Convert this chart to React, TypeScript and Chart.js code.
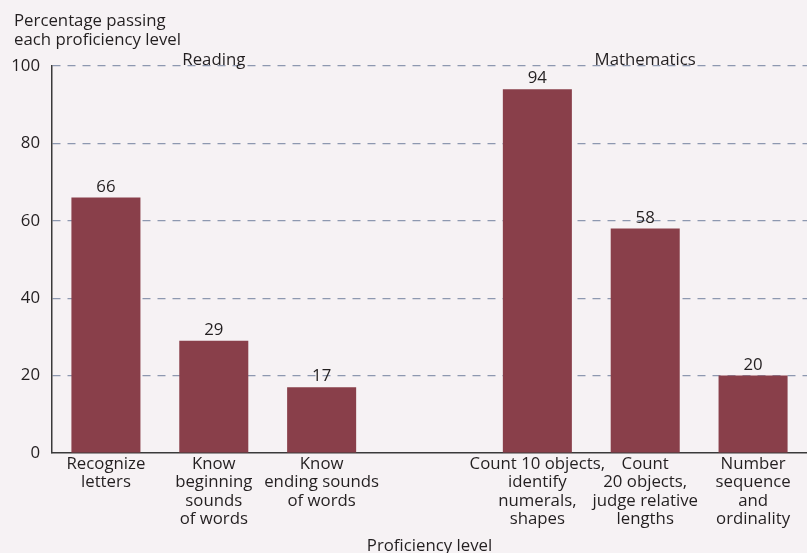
import React, { useEffect, useRef } from "react";
import { Chart, registerables } from "chart.js";

Chart.register(...registerables);

// Proficiency levels (multi-line tick labels); the empty slot separates the two subjects
const categories: string[][] = [
  ["Recognize", "letters"],
  ["Know", "beginning", "sounds", "of words"],
  ["Know", "ending sounds", "of words"],
  [""],
  ["Count 10 objects,", "identify", "numerals,", "shapes"],
  ["Count", "20 objects,", "judge relative", "lengths"],
  ["Number", "sequence", "and", "ordinality"],
];

// Percentage passing each proficiency level
const percentPassing: (number | null)[] = [66, 29, 17, null, 94, 58, 20];

// Subject headings, each placed over the middle level of its group
const subjects: { name: string; centerIndex: number }[] = [
  { name: "Reading", centerIndex: 1 },
  { name: "Mathematics", centerIndex: 5 },
];

const yTicks = [0, 20, 40, 60, 80, 100];
const yAxisTitle = ["Percentage passing", "each proficiency level"];
const xAxisTitle = "Proficiency level";

const FONT = "'Open Sans', 'DejaVu Sans', sans-serif";
const FONT_SIZE = 16.8;
const TEXT = "#231f20";
const BG = "#f6f2f4";
const BAR = "#893f4a";
const GRID = "#8d98b0";

const annotations = {
  id: "annotations",
  beforeDraw(chart: any) {
    const { ctx, width, height } = chart;
    ctx.save();
    ctx.fillStyle = BG;
    ctx.fillRect(0, 0, width, height);
    ctx.restore();
  },
  afterDraw(chart: any) {
    const { ctx, chartArea, scales } = chart;
    ctx.save();
    ctx.fillStyle = TEXT;
    ctx.font = `${FONT_SIZE}px ${FONT}`;

    // axis caption, top left
    ctx.textAlign = "left";
    ctx.textBaseline = "alphabetic";
    yAxisTitle.forEach((line, i) => ctx.fillText(line, 14, 26 + i * 19));

    // subject headings sitting on the 100 line
    ctx.textAlign = "center";
    subjects.forEach((s) => {
      const x = scales.x.getPixelForValue(s.centerIndex);
      ctx.fillText(s.name, x, chartArea.top - 1);
    });

    // value labels above bars
    const meta = chart.getDatasetMeta(0);
    meta.data.forEach((bar: any, i: number) => {
      const v = percentPassing[i];
      if (v == null) return;
      ctx.fillText(String(v), bar.x, bar.y - 6);
    });

    // horizontal axis caption
    ctx.fillText(xAxisTitle, (chartArea.left + chartArea.right) / 2, 551);
    ctx.restore();
  },
};

export default function App() {
  const ref = useRef<HTMLCanvasElement | null>(null);

  useEffect(() => {
    document.body.style.margin = "0";
    document.body.style.background = BG;
    const chart = new Chart(ref.current as HTMLCanvasElement, {
      type: "bar",
      data: {
        labels: categories,
        datasets: [
          {
            data: percentPassing,
            backgroundColor: BAR,
            borderWidth: 0,
            barPercentage: 0.64,
            categoryPercentage: 1,
          },
        ],
      },
      options: {
        animation: false,
        responsive: false,
        maintainAspectRatio: false,
        layout: { padding: { top: 66, left: 0, right: 0, bottom: 0 } },
        plugins: {
          legend: { display: false },
          tooltip: { enabled: false },
          title: { display: false },
        },
        scales: {
          x: {
            type: "category",
            offset: true,
            grid: { display: false, drawTicks: false },
            border: { display: true, color: "#3a3a3a", width: 1.5 },
            ticks: {
              autoSkip: false,
              maxRotation: 0,
              minRotation: 0,
              padding: 2,
              color: TEXT,
              font: { family: FONT, size: FONT_SIZE, lineHeight: 1.09 },
            },
            afterFit(scale: any) {
              scale.height = 100;
            },
          },
          y: {
            min: 0,
            max: 100,
            afterBuildTicks(scale: any) {
              scale.ticks = yTicks.map((v) => ({ value: v }));
            },
            grid: {
              drawTicks: false,
              color: (c: any) => (c.tick && c.tick.value === 0 ? "rgba(0,0,0,0)" : GRID),
              lineWidth: 1.2,
            },
            border: { display: true, color: "#3a3a3a", width: 1.5, dash: [8, 7] },
            ticks: {
              padding: 12,
              color: TEXT,
              font: { family: FONT, size: FONT_SIZE },
            },
            afterFit(scale: any) {
              scale.width = 52;
            },
          },
        },
      },
      plugins: [annotations],
    });
    return () => chart.destroy();
  }, []);

  return (
    <div style={{ position: "fixed", left: 0, top: 0, width: 807, height: 553, background: BG }}>
      <canvas ref={ref} width={807} height={553} style={{ width: 807, height: 553, display: "block" }} />
    </div>
  );
}
